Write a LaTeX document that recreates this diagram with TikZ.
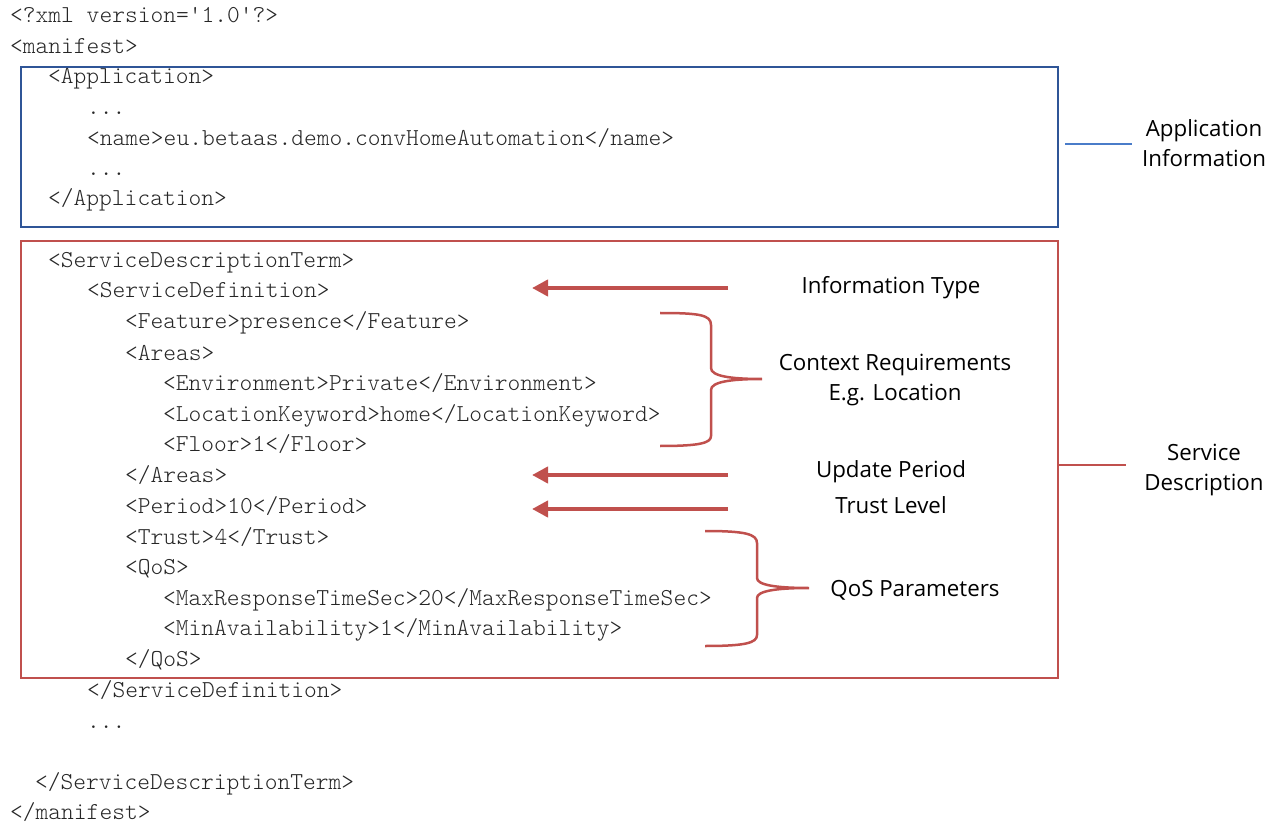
\documentclass[tikz,border=0pt]{standalone}
\usepackage{fontspec}
\setmainfont{Open Sans}
\newfontfamily\codefont{Latin Modern Mono Light}
\usetikzlibrary{arrows.meta}
\definecolor{boxblue}{HTML}{2F5597}
\definecolor{lineblue}{HTML}{4A7CC9}
\definecolor{bred}{HTML}{C0504D}
\tikzset{
  code/.style={anchor=base west, inner sep=0pt, text=black!85, font=\codefont\fontsize{24.3}{26}\selectfont},
  lbl/.style={anchor=base, inner sep=0pt, align=center, font=\fontsize{22.3}{30}\selectfont},
  redarrow/.style={draw=bred, line width=4pt, -{Triangle[length=16pt,width=16pt]}, fill=bred},
  brace/.style={draw=bred, line width=2.5pt},
}
\begin{document}
\begin{tikzpicture}[x=1pt,y=-1pt]
\useasboundingbox (0,0) rectangle (1280,826);
% boxes
\node[draw=boxblue, line width=2pt, minimum width=1037pt, minimum height=160pt, anchor=north west, inner sep=0pt] (appbox) at (20,66) {};
\node[draw=bred, line width=2pt, minimum width=1037pt, minimum height=437pt, anchor=north west, inner sep=0pt] (sdbox) at (20,240) {};
% code lines
\node[code] (l1) at (10,23) {<?xml version='1.0'?>};
\node[code] (l2) at (10,54) {<manifest>};
\node[code] (l3) at (48,84) {<Application>};
\node[code] (l4) at (87,115) {...};
\node[code] (l5) at (87,146) {<name>eu.betaas.demo.convHomeAutomation</name>};
\node[code] (l6) at (87,176) {...};
\node[code] (l7) at (48,206) {</Application>};
\node[code] (l8) at (48,268) {<ServiceDescriptionTerm>};
\node[code] (l9) at (87,298) {<ServiceDefinition>};
\node[code] (l10) at (125,329) {<Feature>presence</Feature>};
\node[code] (l11) at (125,360) {<Areas>};
\node[code] (l12) at (163,390) {<Environment>Private</Environment>};
\node[code] (l13) at (163,421) {<LocationKeyword>home</LocationKeyword>};
\node[code] (l14) at (163,451) {<Floor>1</Floor>};
\node[code] (l15) at (125,482) {</Areas>};
\node[code] (l16) at (125,513) {<Period>10</Period>};
\node[code] (l17) at (125,544) {<Trust>4</Trust>};
\node[code] (l18) at (125,574) {<QoS>};
\node[code] (l19) at (163,605) {<MaxResponseTimeSec>20</MaxResponseTimeSec>};
\node[code] (l20) at (163,635) {<MinAvailability>1</MinAvailability>};
\node[code] (l21) at (125,666) {</QoS>};
\node[code] (l22) at (87,697) {</ServiceDefinition>};
\node[code] (l23) at (87,728) {...};
\node[code] (l24) at (35,789) {</ServiceDescriptionTerm>};
\node[code] (l25) at (10,819) {</manifest>};
% labels
\node[lbl] (appinfo) at (1204,167) {Application\\Information};
\node[lbl] (sdesc) at (1204,490) {Service\\Description};
\node[lbl] (itype) at (891,294) {Information Type};
\node[lbl] (ctx) at (895,400) {Context Requirements\\E.g. Location};
\node[lbl] (upd) at (891,477) {Update Period};
\node[lbl] (trust) at (891,513) {Trust Level};
\node[lbl] (qos) at (915,596) {QoS Parameters};
% connectors to boxes
\coordinate (ab) at (1065,144);
\coordinate (ae) at (1132,144);
\draw[lineblue, line width=1.5pt] (ab) -- (ae);
\coordinate (sb) at (1057,465);
\coordinate (se) at (1126,465);
\draw[bred, line width=1.5pt] (sb) -- (se);
% arrows
\coordinate (a1s) at (728,288); \coordinate (a1e) at (532,288);
\coordinate (a2s) at (728,475); \coordinate (a2e) at (532,475);
\coordinate (a3s) at (728,509); \coordinate (a3e) at (532,509);
\draw[redarrow] (a1s) -- (a1e);
\draw[redarrow] (a2s) -- (a2e);
\draw[redarrow] (a3s) -- (a3e);
% braces
\coordinate (b1tip) at (762,379);
\draw[brace] (660,313) .. controls (700,313) and (711,315) .. (711,325) -- (711,368) .. controls (711,376) and (730,379) .. (b1tip) .. controls (730,379) and (711,382) .. (711,390) -- (711,436) .. controls (711,443) and (700,446) .. (660,446);
\coordinate (b2tip) at (809,588);
\draw[brace] (705,531) .. controls (745,531) and (757,534) .. (757,543) -- (757,578) .. controls (757,585) and (776,588) .. (b2tip) .. controls (776,588) and (757,591) .. (757,598) -- (757,635) .. controls (757,643) and (745,646) .. (705,646);
\end{tikzpicture}
\end{document}
